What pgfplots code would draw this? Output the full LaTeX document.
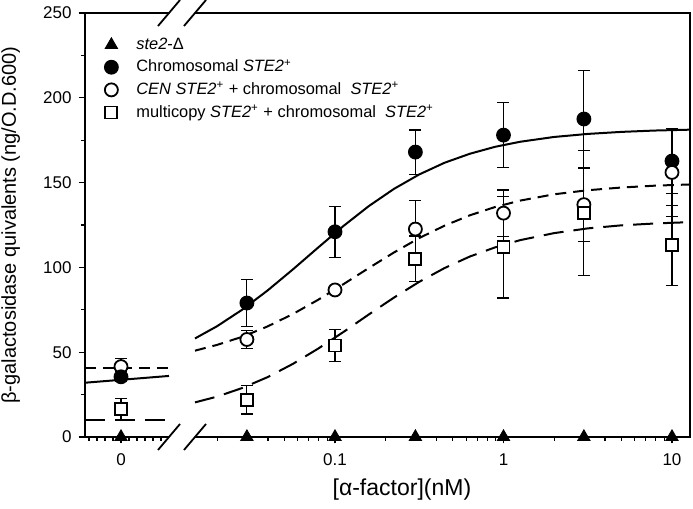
\documentclass[border=0pt]{standalone}
\usepackage{fontspec}
\setmainfont{Liberation Sans}
\usepackage{pgfplots}
\pgfplotsset{compat=1.18}

% shared look of the two halves of the broken axis
\pgfplotsset{
  brk/.style={
    scale only axis, height=212pt, ymin=0, ymax=250, clip=false,
    axis line style={draw=none},
    tick align=outside, xtick pos=left, ytick pos=left,
    major tick length=3.2pt, minor tick length=2pt,
    tick style={black, line width=0.6pt},
    /pgf/number format/assume math mode=true,
    tick label style={font=\fontsize{8.5}{10}\selectfont},
    xticklabel style={yshift=-1.8pt},
    label style={font=\fontsize{10}{12}\selectfont},
  },
  ebar/.style={
    only marks, black, line width=0.9pt,
    error bars/y dir=both, error bars/y explicit,
    error bars/error bar style={line width=0.6pt, black, solid},
    error bars/error mark options={rotate=90, mark size=3pt, line width=0.6pt, black},
  },
}

% x  y  err  (the points at [alpha-factor] = 0)
\pgfplotstableread{
x y e
0 35.5 3
}\chromZero
\pgfplotstableread{
x y e
0 41.5 5
}\cenZero
\pgfplotstableread{
x y e
0 16.5 6
}\multiZero

\pgfplotstableread{
x y e
0.03 79.0 14
0.1 121.0 15
0.3 168.0 13
1 178.0 19
3 187.5 28.5
10 162.7 19
}\chrom
\pgfplotstableread{
x y e
0.03 57.5 5.5
0.1 86.7 2
0.3 122.6 17
1 132.0 13.6
3 137.0 21.5
10 156.0 26
}\cen
\pgfplotstableread{
x y e
0.03 22.0 8.5
0.1 54.0 9.3
0.3 105.0 13.5
1 112.0 30
3 132.0 37
10 113.0 23.5
}\multi

\begin{document}
\begin{tikzpicture}
\path[use as bounding box] (0,0) rectangle (346.5pt,254.5pt);

% ---- left part: the zero concentration
\begin{axis}[brk, at={(42.5pt,36pt)}, anchor=south west, width=42pt,
  xmin=-4.5, xmax=6,
  xtick={0}, xticklabels={0}, minor xtick={-4,-3,-2,-1,1,2,3,4,5},
  ytick={0,50,...,250}, minor ytick={25,75,...,225},
  ylabel={β-galactosidase quivalents (ng/O.D.600)},
  ylabel style={at={(axis description cs:-0.885,0.5)}, anchor=center},
]
\addplot[black, line width=1pt] coordinates {(-4.5,32) (6,36)};
\addplot[black, line width=1pt, dash pattern=on 5.5pt off 3.5pt] coordinates {(-4.5,40.5) (6,40.5)};
\addplot[black, line width=1pt, dash pattern=on 10pt off 5pt] coordinates {(-4.5,9.8) (6,9.8)};
\addplot[ebar, mark=square*, fill=white, mark size=3pt] table[x=x,y=y,y error=e] {\multiZero};
\addplot[ebar, mark=*, fill=white, mark size=3.25pt] table[x=x,y=y,y error=e] {\cenZero};
\addplot[ebar, mark=*, fill=black, mark size=3.25pt] table[x=x,y=y,y error=e] {\chromZero};
\addplot[only marks, mark=triangle*, fill=black, mark size=3.6pt] coordinates {(0,0)};
\draw[line width=1pt] (rel axis cs:1,0) -- (rel axis cs:0,0) -- (rel axis cs:0,1) -- (rel axis cs:1,1);
\draw[line width=0.9pt] ([shift={(-5.5pt,-6.5pt)}]rel axis cs:1,0) -- ([shift={(5.5pt,6.5pt)}]rel axis cs:1,0);
\draw[line width=0.9pt] ([shift={(-5.5pt,-6.5pt)}]rel axis cs:1,1) -- ([shift={(5.5pt,6.5pt)}]rel axis cs:1,1);
\end{axis}

% ---- right part: log scale
\begin{axis}[brk, at={(97.5pt,36pt)}, anchor=south west, width=247.5pt,
  xmode=log, xmin=0.01476, xmax=12.79,
  xtick={0.1,1,10}, xticklabels={0.1,1,10},
  minor xtick={0.02,0.03,0.04,0.05,0.06,0.07,0.08,0.09,0.2,0.3,0.4,0.5,0.6,0.7,0.8,0.9,2,3,4,5,6,7,8,9},
  ytick=\empty,
  xlabel={[α-factor](nM)},
  xlabel style={at={(axis description cs:0.418,-0.125)}, anchor=center,
    font=\fontsize{11.5}{13}\selectfont},
  legend image code/.code={\draw[#1, only marks] plot coordinates {(0pt,0pt)};
    \path[draw=none] (-4pt,0pt) (10.5pt,0pt);},
  legend style={at={(axis description cs:-0.198,0.9615)}, anchor=north west,
    draw=none, fill=none, font=\fontsize{8.2}{10}\selectfont,
    legend cell align=left, row sep=-0.3pt},
]
\addplot[black, line width=1pt, forget plot] coordinates {
(0.01476,58.1) (0.01995,65.3) (0.02818,75.1) (0.03981,86.4) (0.05623,98.8)
(0.07943,111.7) (0.1122,124.4) (0.1585,136.1) (0.2239,146.3) (0.3162,154.8)
(0.4467,161.7) (0.6310,167.0) (0.8913,171.1) (1.259,174.1) (1.995,176.9)
(3.162,178.7) (5.012,179.9) (7.943,180.7) (12.79,181.2)};
\addplot[black, line width=1pt, dash pattern=on 5.5pt off 3.5pt, forget plot] coordinates {
(0.01476,50.9) (0.01995,54.3) (0.02818,59.1) (0.03981,65.2) (0.05623,72.5)
(0.07943,80.9) (0.1122,90.1) (0.1585,99.6) (0.2239,108.8) (0.3162,117.3)
(0.4467,124.6) (0.6310,130.7) (0.8913,135.6) (1.259,139.4) (1.995,143.1)
(3.162,145.5) (5.012,147.1) (7.943,148.2) (12.79,148.9)};
\addplot[black, line width=1pt, dash pattern=on 10pt off 5pt, forget plot] coordinates {
(0.01476,20.4) (0.01995,23.8) (0.02818,28.9) (0.03981,35.3) (0.05623,43.1)
(0.07943,52.1) (0.1122,61.9) (0.1585,72.2) (0.2239,82.2) (0.3162,91.5)
(0.4467,99.6) (0.6310,106.4) (0.8913,111.8) (1.259,116.1) (1.995,120.2)
(3.162,123.0) (5.012,124.8) (7.943,125.9) (12.79,126.7)};
\addplot[only marks, mark=triangle*, fill=black, mark size=3.6pt] coordinates {
(0.03,0) (0.1,0) (0.3,0) (1,0) (3,0) (10,0)};
\addlegendentry{\textit{ste2}-Δ}
\addplot[ebar, mark=*, fill=black, mark size=3.25pt] table[x=x,y=y,y error=e] {\chrom};
\addlegendentry{Chromosomal \textit{STE2}\textsuperscript{+}}
\addplot[ebar, mark=*, fill=white, mark size=3.25pt] table[x=x,y=y,y error=e] {\cen};
\addlegendentry{\textit{CEN STE2}\textsuperscript{+} + chromosomal\ \ \textit{STE2}\textsuperscript{+}}
\addplot[ebar, mark=square*, fill=white, mark size=3pt] table[x=x,y=y,y error=e] {\multi};
\addlegendentry{multicopy \textit{STE2}\textsuperscript{+} + chromosomal\ \ \textit{STE2}\textsuperscript{+}}
\draw[line width=1pt] (rel axis cs:0,0) -- (rel axis cs:1,0) -- (rel axis cs:1,1) -- (rel axis cs:0,1);
\draw[line width=0.9pt] ([shift={(-5.5pt,-6.5pt)}]rel axis cs:0,0) -- ([shift={(5.5pt,6.5pt)}]rel axis cs:0,0);
\draw[line width=0.9pt] ([shift={(-5.5pt,-6.5pt)}]rel axis cs:0,1) -- ([shift={(5.5pt,6.5pt)}]rel axis cs:0,1);
\end{axis}
\end{tikzpicture}
\end{document}
